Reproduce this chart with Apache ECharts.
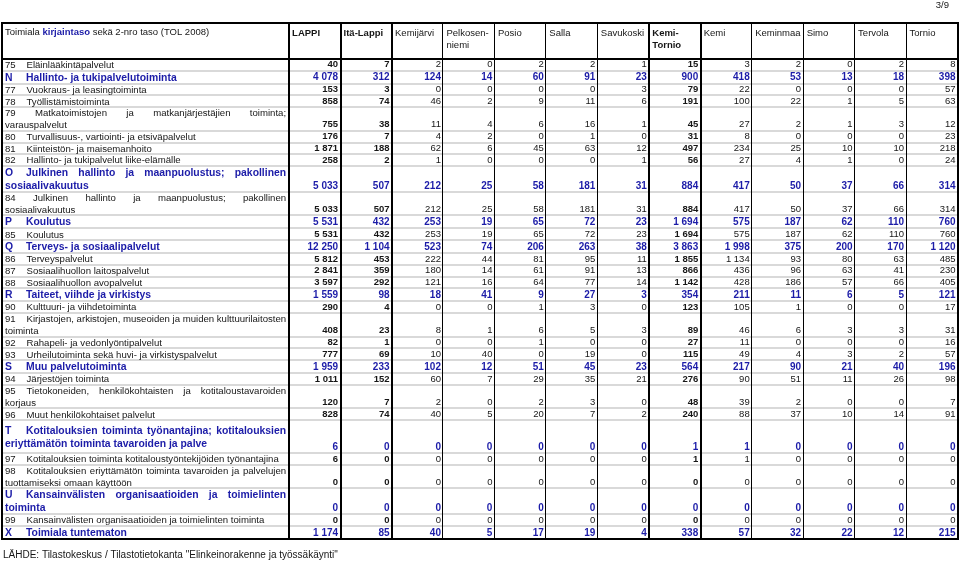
<!DOCTYPE html>
<html><head><meta charset="utf-8">
<script src="https://cdn.jsdelivr.net/npm/echarts@6/dist/echarts.min.js"></script>
<style>html,body{margin:0;padding:0;background:#fff}#c{width:960px;height:565px}</style>
</head><body><div id="c"></div>
<script>
// ---------- DATA ----------
const pageLabel = '3/9';
const sourceNote = 'LÄHDE: Tilastokeskus / Tilastotietokanta "Elinkeinorakenne ja työssäkäynti"';
const headerLabelParts = ['Toimiala ', 'kirjaintaso', ' sekä 2-nro taso (TOL 2008)'];
const columnNames = ['LAPPI','Itä-Lappi','Kemijärvi','Pelkosen-\nniemi','Posio','Salla','Savukoski','Kemi-\nTornio','Kemi','Keminmaa','Simo','Tervola','Tornio'];
const boldColumns = ['LAPPI','Itä-Lappi','Kemi-\nTornio'];
const rowCodes = ['75','N','77','78','79','80','81','82','O','84','P','85','Q','86','87','88','R','90','91','92','93','S','94','95','96','T','97','98','U','99','X'];
const rowLabels = [
  'Eläinlääkintäpalvelut',
  'Hallinto- ja tukipalvelutoiminta',
  'Vuokraus- ja leasingtoiminta',
  'Työllistämistoiminta',
  'Matkatoimistojen ja matkanjärjestäjien toiminta;\nvarauspalvelut',
  'Turvallisuus-, vartiointi- ja etsiväpalvelut',
  'Kiinteistön- ja maisemanhoito',
  'Hallinto- ja tukipalvelut liike-elämälle',
  'Julkinen hallinto ja maanpuolustus; pakollinen\nsosiaalivakuutus',
  'Julkinen hallinto ja maanpuolustus; pakollinen\nsosiaalivakuutus',
  'Koulutus',
  'Koulutus',
  'Terveys- ja sosiaalipalvelut',
  'Terveyspalvelut',
  'Sosiaalihuollon laitospalvelut',
  'Sosiaalihuollon avopalvelut',
  'Taiteet, viihde ja virkistys',
  'Kulttuuri- ja viihdetoiminta',
  'Kirjastojen, arkistojen, museoiden ja muiden kulttuurilaitosten\ntoiminta',
  'Rahapeli- ja vedonlyöntipalvelut',
  'Urheilutoiminta sekä huvi- ja virkistyspalvelut',
  'Muu palvelutoiminta',
  'Järjestöjen toiminta',
  'Tietokoneiden, henkilökohtaisten ja kotitaloustavaroiden\nkorjaus',
  'Muut henkilökohtaiset palvelut',
  'Kotitalouksien toiminta työnantajina; kotitalouksien\neriyttämätön toiminta tavaroiden ja palve',
  'Kotitalouksien toiminta kotitaloustyöntekijöiden työnantajina',
  'Kotitalouksien eriyttämätön toiminta tavaroiden ja palvelujen\ntuottamiseksi omaan käyttöön',
  'Kansainvälisten organisaatioiden ja toimielinten\ntoiminta',
  'Kansainvälisten organisaatioiden ja toimielinten toiminta',
  'Toimiala tuntematon'
];
const lappi         = [40,4078,153,858,755,176,1871,258,5033,5033,5531,5531,12250,5812,2841,3597,1559,290,408,82,777,1959,1011,120,828,6,6,0,0,0,1174];
const itaLappi      = [7,312,3,74,38,7,188,2,507,507,432,432,1104,453,359,292,98,4,23,1,69,233,152,7,74,0,0,0,0,0,85];
const kemijarvi     = [2,124,0,46,11,4,62,1,212,212,253,253,523,222,180,121,18,0,8,0,10,102,60,2,40,0,0,0,0,0,40];
const pelkosenniemi = [0,14,0,2,4,2,6,0,25,25,19,19,74,44,14,16,41,0,1,0,40,12,7,0,5,0,0,0,0,0,5];
const posio         = [2,60,0,9,6,0,45,0,58,58,65,65,206,81,61,64,9,1,6,1,0,51,29,2,20,0,0,0,0,0,17];
const salla         = [2,91,0,11,16,1,63,0,181,181,72,72,263,95,91,77,27,3,5,0,19,45,35,3,7,0,0,0,0,0,19];
const savukoski     = [1,23,3,6,1,0,12,1,31,31,23,23,38,11,13,14,3,0,3,0,0,23,21,0,2,0,0,0,0,0,4];
const kemiTornio    = [15,900,79,191,45,31,497,56,884,884,1694,1694,3863,1855,866,1142,354,123,89,27,115,564,276,48,240,1,1,0,0,0,338];
const kemi          = [3,418,22,100,27,8,234,27,417,417,575,575,1998,1134,436,428,211,105,46,11,49,217,90,39,88,1,1,0,0,0,57];
const keminmaa      = [2,53,0,22,2,0,25,4,50,50,187,187,375,93,96,186,11,1,6,0,4,90,51,2,37,0,0,0,0,0,32];
const simo          = [0,13,0,1,1,0,10,1,37,37,62,62,200,80,63,57,6,0,3,0,3,21,11,0,10,0,0,0,0,0,22];
const tervola       = [2,18,0,5,3,0,10,0,66,66,110,110,170,63,41,66,5,0,3,0,2,40,26,0,14,0,0,0,0,0,12];
const tornio        = [8,398,57,63,12,23,218,24,314,314,760,760,1120,485,230,405,121,17,31,16,57,196,98,7,91,0,0,0,0,0,215];
const columnValues = [lappi,itaLappi,kemijarvi,pelkosenniemi,posio,salla,savukoski,kemiTornio,kemi,keminmaa,simo,tervola,tornio];

// ---------- LAYOUT / STYLE ----------
const FF = '"Liberation Sans", Arial, sans-serif';
const BLUE = '#1c1ca8';
const INK = '#161616';
const F_TEXT = '9.6px ' + FF;
const F_LETTER = 'bold 10.4px ' + FF;
const F_NUM = '9.5px ' + FF;
const F_NUM_BOLD = 'bold 9.5px ' + FF;
const F_NUM_LETTER = 'bold 10px ' + FF;
const F_HEAD = '9.5px ' + FF;
const F_HEAD_BOLD = 'bold 9.5px ' + FF;
const LABEL_W = 5.58;                 // label column width in column units
const NCOL = columnNames.length;
const X_MAX = LABEL_W + NCOL;
const HEADER_H = 3.06;                // header height in line units
const LETTER_UNIT = 1.1;
const tallRows = {T: 2.8};
const thickBounds = [0,1,2,3,8,9,14];

const isLetter = c => /^[A-Z]$/.test(c);
const rowH = rowCodes.map((c,i) => tallRows[c] !== undefined ? tallRows[c] :
  rowLabels[i].split('\n').length * (isLetter(c) ? LETTER_UNIT : 1));
const rowTop = [];
let acc = HEADER_H;
rowH.forEach(h => { rowTop.push(acc); acc += h; });
const Y_MAX = acc;

const mctx = document.createElement('canvas').getContext('2d');
function tw(t, font){ mctx.font = font; return mctx.measureText(t).width; }
function fmt(v){ return String(v).replace(/\B(?=(\d{3})+(?!\d))/g, ' '); }
function txt(t, x, y, font, fill, align, va){
  return {type:'text', style:{text:t, x:x, y:y, font:font, fill:fill, align:align||'left', verticalAlign:va||'middle'}};
}

function renderRow(params, api){
  const r = params.dataIndex;
  const X = u => api.coord([u, 0])[0];
  const Y = u => api.coord([0, u])[1];
  const top = Y(rowTop[r]), bot = Y(rowTop[r] + rowH[r]);
  const x0 = X(0), x1 = X(LABEL_W);
  const code = rowCodes[r];
  const letter = isLetter(code);
  const children = [];
  if (r < rowCodes.length - 1) {
    children.push({type:'line', shape:{x1:x0, y1:Math.round(bot), x2:X(X_MAX), y2:Math.round(bot)},
      style:{stroke:'#cdcdcd', lineWidth:1.5}});
  }
  const lf = letter ? F_LETTER : F_TEXT;
  const color = letter ? BLUE : INK;
  const lines = rowLabels[r].split('\n');
  const unit = Y(1) - Y(0);
  const pitch = unit * (letter ? LETTER_UNIT : 1);
  const cy = (top + bot) / 2;
  const indent = letter ? 24 : 24.5;
  let y = cy - lines.length * pitch / 2 + pitch / 2 + 0.6;
  lines.forEach((ln, i) => {
    const last = i === lines.length - 1;
    if (i === 0 && last) {
      children.push(txt(code, x0 + 3, y, lf, color));
      children.push(txt(ln, x0 + indent, y, lf, color));
    } else if (!last) {
      const words = ln.split(' ');
      let startX = x0 + 3;
      const endX = x1 - 3;
      if (i === 0) {
        const all = [code].concat(words);
        const totalAll = all.reduce((s, w) => s + tw(w, lf), 0);
        const gapAll = (endX - startX - totalAll) / (all.length - 1);
        children.push(txt(code, startX, y, lf, color));
        startX = Math.max(x0 + indent, startX + tw(code, lf) + gapAll);
      }
      const total = words.reduce((s, w) => s + tw(w, lf), 0);
      const gap = words.length > 1 ? (endX - startX - total) / (words.length - 1) : 0;
      let x = startX;
      words.forEach(w => { children.push(txt(w, x, y, lf, color)); x += tw(w, lf) + gap; });
    } else {
      children.push(txt(ln, x0 + 3, y, lf, color));
    }
    y += pitch;
  });
  columnValues.forEach((vals, c) => {
    const bold = boldColumns.indexOf(columnNames[c]) >= 0;
    const f = letter ? F_NUM_LETTER : (bold ? F_NUM_BOLD : F_NUM);
    children.push(txt(fmt(vals[r]), X(LABEL_W + c + 1) - 2.5, bot - 1, f, color, 'right', 'bottom'));
  });
  return {type:'group', children:children};
}

function renderHeader(params, api){
  const c = params.dataIndex;
  const X = u => api.coord([u, 0])[0];
  const Y = u => api.coord([0, u])[1];
  const xu = c === 0 ? 0 : LABEL_W + c - 1;
  const x = X(xu) + 3, y = Y(0) + 4;
  if (c === 0) {
    return {type:'text', style:{
      text:'{a|' + headerLabelParts[0] + '}{b|' + headerLabelParts[1] + '}{a|' + headerLabelParts[2] + '}',
      x:x, y:y, align:'left', verticalAlign:'top',
      rich:{a:{font:F_HEAD, fill:INK}, b:{font:F_HEAD_BOLD, fill:BLUE}}
    }};
  }
  const name = columnNames[c - 1];
  const bold = boldColumns.indexOf(name) >= 0;
  return {type:'text', style:{text:name, x:x, y:y, align:'left', verticalAlign:'top',
    font:bold ? F_HEAD_BOLD : F_HEAD, fill:INK, lineHeight:12}};
}

function renderVLine(params, api){
  const b = params.dataIndex;
  const xu = b === 0 ? 0 : LABEL_W + b - 1;
  let x = api.coord([xu, 0])[0];
  const thick = thickBounds.indexOf(b) >= 0;
  x = thick ? Math.round(x) : Math.round(x) - 0.5;
  return {type:'line', shape:{x1:x, y1:api.coord([0,0])[1] - 1, x2:x, y2:api.coord([0,Y_MAX])[1] + 1},
    style:{stroke:'#000', lineWidth: thick ? 2 : 1}};
}

function renderHLine(params, api){
  const yu = [0, HEADER_H, Y_MAX][params.dataIndex];
  const y = Math.round(api.coord([0, yu])[1]);
  return {type:'line', shape:{x1:api.coord([0,0])[0] - 1, y1:y, x2:api.coord([X_MAX,0])[0] + 1, y2:y},
    style:{stroke:'#000', lineWidth:2}};
}

const chart = echarts.init(document.getElementById('c'), null, {renderer:'canvas'});
chart.setOption({
  animation:false,
  backgroundColor:'#fff',
  grid:{left:2, top:23, width:956, height:516, containLabel:false},
  xAxis:{type:'value', min:0, max:X_MAX, show:false},
  yAxis:{type:'value', min:0, max:Y_MAX, inverse:true, show:false},
  graphic:[
    {type:'text', right:11, top:0, style:{text:pageLabel, font:'9.5px ' + FF, fill:INK}},
    {type:'text', left:3, top:550, style:{text:sourceNote, font:'10px ' + FF, fill:INK}}
  ],
  series:[
    {type:'custom', z:2, renderItem:renderRow, data:rowCodes.map((c,i) => [0, rowTop[i]])},
    {type:'custom', z:2, renderItem:renderHeader, data:[[0,0]].concat(columnNames.map((n,i) => [LABEL_W + i, 0]))},
    {type:'custom', z:3, renderItem:renderVLine, data:Array.from({length:NCOL + 2}, (_, b) => [b === 0 ? 0 : LABEL_W + b - 1, 0])},
    {type:'custom', z:4, renderItem:renderHLine, data:[[0,0],[0,HEADER_H],[0,Y_MAX]]}
  ]
});
</script></body></html>
